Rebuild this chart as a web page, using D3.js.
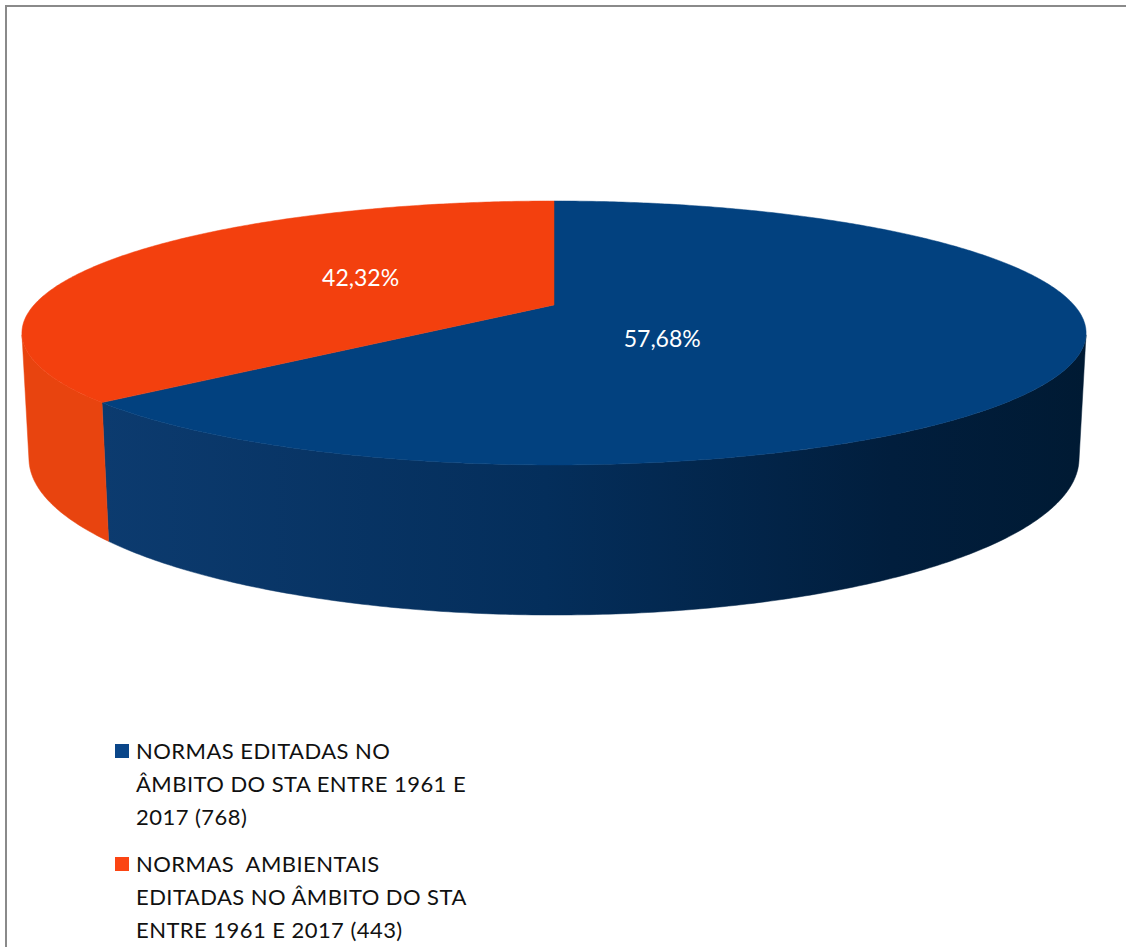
<!DOCTYPE html>
<html>
<head>
<meta charset="utf-8">
<title></title>
<style type="text/css">
html, body {
  margin: 0;
  overflow: hidden;
  background: #fff;
}
svg {
  display: block;
}
text {
  font-family: Lato, "Open Sans", sans-serif;
}
</style>
</head>
<body>
<svg width="1126" height="947"></svg>

<script src="https://d3js.org/d3.v7.min.js"></script>
<script>
// chart data
var categories = ["NORMAS EDITADAS NO ÂMBITO DO STA ENTRE 1961 E 2017 (768)",
                  "NORMAS  AMBIENTAIS EDITADAS NO ÂMBITO DO STA ENTRE 1961 E 2017 (443)"];
var values = [768, 443];
var percentLabels = ["57,68%", "42,32%"];
var legendLines = [
  ["NORMAS EDITADAS NO", "ÂMBITO DO STA ENTRE 1961 E", "2017 (768)"],
  ["NORMAS\u00a0 AMBIENTAIS", "EDITADAS NO ÂMBITO DO STA", "ENTRE 1961 E 2017 (443)"]
];

var topColors = ["#02417f", "#f3400e"];
var keyColors = ["#0a4689", "#fb4513"];

var svg = d3.select("svg");

// frame of the chart area: only the top and left edges fall inside the picture
svg.append("path")
  .attr("d", "M6,947V6H1126")
  .attr("fill", "none")
  .attr("stroke", "#8a8a8a")
  .attr("stroke-width", 2);

// simple perspective camera looking down on a unit disc
var cam = { cx: 554, cy: 305, f: 2380, D: 4.577, phi: Math.asin(0.2424) };
var depth = 0.2423;
var sinP = Math.sin(cam.phi), cosP = Math.cos(cam.phi);

function project(theta, r, y) {
  var x = r * Math.sin(theta),
      z = -r * Math.cos(theta);
  var up = y * cosP - z * sinP;
  var dist = cam.D - (y * sinP + z * cosP);
  return [cam.cx + cam.f * x / dist, cam.cy - cam.f * up / dist];
}

var pie = d3.pie().sort(null).value(function(d) { return d; });
var arcs = pie(values);

var line = d3.line();

function rim(a0, a1, y) {
  var n = Math.max(2, Math.ceil((a1 - a0) / 0.01));
  var pts = [];
  for (var i = 0; i <= n; i++) {
    pts.push(project(a0 + (a1 - a0) * i / n, 1, y));
  }
  return pts;
}

// side walls that face the camera
var t0 = Math.acos(-1 / (cam.D * cosP)),
    t1 = 2 * Math.PI - t0;

var defs = svg.append("defs");
var gBlue = defs.append("linearGradient")
  .attr("id", "sideBlue")
  .attr("gradientUnits", "userSpaceOnUse")
  .attr("x1", 100).attr("x2", 1090).attr("y1", 0).attr("y2", 0);
gBlue.append("stop").attr("offset", 0).attr("stop-color", "#0c3b6f");
gBlue.append("stop").attr("offset", 0.45).attr("stop-color", "#042e5b");
gBlue.append("stop").attr("offset", 0.8).attr("stop-color", "#011e3d");
gBlue.append("stop").attr("offset", 1).attr("stop-color", "#001a33");

var sideFills = ["url(#sideBlue)", "#e8440f"];

var walls = svg.append("g");
arcs.forEach(function(d, i) {
  var a0 = Math.max(d.startAngle, t0),
      a1 = Math.min(d.endAngle, t1);
  if (a1 <= a0) return;
  var pts = rim(a0, a1, 0).concat(rim(a0, a1, -depth).reverse());
  walls.append("path")
    .attr("d", line(pts) + "Z")
    .attr("fill", sideFills[i])
    .attr("stroke", sideFills[i])
    .attr("stroke-width", 0.5);
});

// top faces
var tops = svg.append("g");
arcs.forEach(function(d, i) {
  var pts = [project(0, 0, 0)].concat(rim(d.startAngle, d.endAngle, 0));
  tops.append("path")
    .attr("d", line(pts) + "Z")
    .attr("fill", topColors[i])
    .attr("stroke", topColors[i])
    .attr("stroke-width", 0.5);
});

// data labels
var labelAnchors = [{ deg: 142, r: 0.32 }, { deg: 300, r: 0.45 }];
svg.append("g").selectAll("text")
  .data(arcs)
  .enter().append("text")
    .attr("x", function(d, i) { return project(labelAnchors[i].deg * Math.PI / 180, labelAnchors[i].r, 0)[0]; })
    .attr("y", function(d, i) { return project(labelAnchors[i].deg * Math.PI / 180, labelAnchors[i].r, 0)[1]; })
    .attr("dy", "0.35em")
    .attr("text-anchor", "middle")
    .attr("fill", "#fff")
    .attr("font-size", "23px")
    .text(function(d, i) { return percentLabels[i]; });

// legend
var legend = svg.append("g").attr("transform", "translate(115,759)");
var entry = legend.selectAll("g")
  .data(categories)
  .enter().append("g")
    .attr("transform", function(d, i) { return "translate(0," + (i * 113) + ")"; });

entry.append("rect")
  .attr("x", 0).attr("y", -15)
  .attr("width", 14).attr("height", 14)
  .attr("fill", function(d, i) { return keyColors[i]; });

entry.append("text")
  .attr("x", 21)
  .attr("font-size", "22px")
  .attr("letter-spacing", "0.45px")
  .attr("fill", "#111")
  .selectAll("tspan")
  .data(function(d, i) { return legendLines[i]; })
  .enter().append("tspan")
    .attr("x", 21)
    .attr("y", function(d, j) { return j * 33; })
    .text(function(d) { return d; });
</script>
</body>
</html>
